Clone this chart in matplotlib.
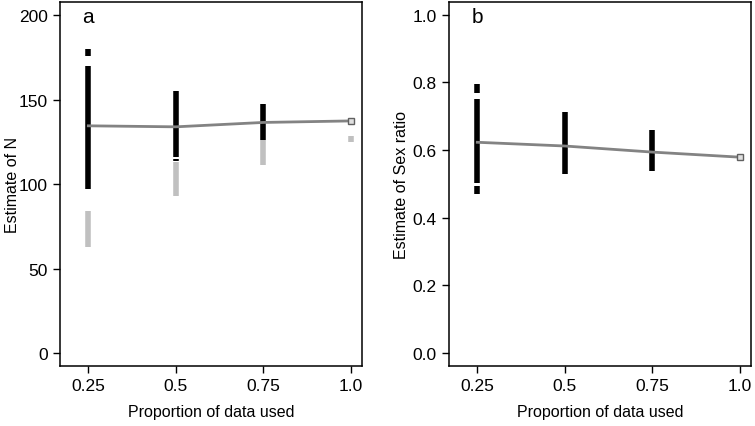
import matplotlib
matplotlib.use("Agg")

import matplotlib.pyplot as plt

plt.rcParams["font.family"] = ["Liberation Sans", "DejaVu Sans"]

# proportion of data used
props = [0.25, 0.5, 0.75, 1.0]
prop_labels = ["0.25", "0.5", "0.75", "1.0"]

# panel a: estimate of N
n_line = [134.6, 134.0, 136.6, 137.5]
n_black = [  # (x, low, high)
    (0.25, 176.0, 180.0), (0.25, 97.3, 170.0),
    (0.5, 116.4, 155.0), (0.5, 113.9, 115.2),
    (0.75, 126.3, 147.7),
]
n_grey = [
    (0.25, 62.7, 84.0),
    (0.5, 92.9, 113.1),
    (0.75, 111.1, 126.3),
    (1.0, 124.9, 128.7),
]

# panel b: estimate of sex ratio
sr_line = [0.623, 0.612, 0.594, 0.579]
sr_black = [
    (0.25, 0.768, 0.796), (0.25, 0.503, 0.751), (0.25, 0.470, 0.495),
    (0.5, 0.530, 0.713),
    (0.75, 0.539, 0.660),
]
sr_grey = []

GREY = "#c0c0c0"
LINE = "#838383"


def draw_panel(ax, black, grey, line, letter, ylabel, ylim, yticks, yticklabels):
    for x, lo, hi in grey:
        ax.vlines(x, lo, hi, color=GREY, linewidth=4.0, zorder=2)
    for x, lo, hi in black:
        ax.vlines(x, lo, hi, color="black", linewidth=4.0, zorder=3)
    ax.plot(props, line, color=LINE, linewidth=2.0, zorder=4)
    ax.plot(props[-1:], line[-1:], marker="s", markersize=4, mfc="#e0e0e0",
            mec="#606060", mew=1.0, linestyle="none", zorder=5)
    ax.set_xlim(0.17, 1.032)
    ax.set_ylim(*ylim)
    ax.set_xticks(props)
    ax.set_xticklabels(prop_labels)
    ax.set_yticks(yticks)
    ax.set_yticklabels(yticklabels)
    ax.tick_params(direction="out", length=5, width=1, labelsize=12.5, pad=4)
    for s in ax.spines.values():
        s.set_linewidth(1.1)
    ax.set_xlabel("Proportion of data used", fontsize=11.5, labelpad=8)
    ax.set_ylabel(ylabel, fontsize=11.5, va="center")
    ax.yaxis.set_label_coords(-0.158, 0.5)
    ax.text(0.092, 0.961, letter, transform=ax.transAxes, fontsize=15,
            ha="center", va="center")


fig = plt.figure(figsize=(7.55, 4.27), dpi=100)
ax1 = fig.add_axes([0.0799, 0.1412, 0.3996, 0.852])
ax2 = fig.add_axes([0.5951, 0.1412, 0.3996, 0.852])

draw_panel(ax1, n_black, n_grey, n_line, "a", "Estimate of N",
           (-7.5, 208), [0, 50, 100, 150, 200], ["0", "50", "100", "150", "200"])
draw_panel(ax2, sr_black, sr_grey, sr_line, "b", "Estimate of Sex ratio",
           (-0.0375, 1.038), [0.0, 0.2, 0.4, 0.6, 0.8, 1.0],
           ["0.0", "0.2", "0.4", "0.6", "0.8", "1.0"])

fig.savefig("out.png", dpi=100)
